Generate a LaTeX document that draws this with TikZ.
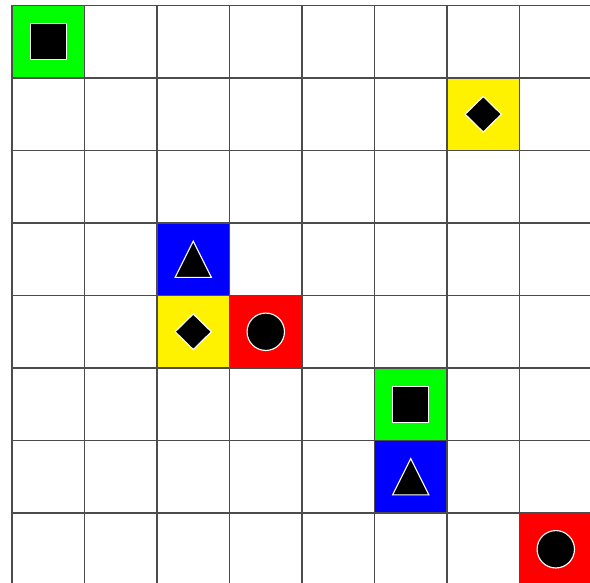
\documentclass[tikz,border=0pt]{standalone}
\begin{document}
\begin{tikzpicture}[x=1cm,y=-1cm,
  gridline/.style={draw=black!70,line width=0.6pt},
  shapemark/.style={fill=black,draw=white,line width=0.45pt},
  sqmark/.pic={\path[shapemark] (-0.25,-0.25) rectangle (0.25,0.25);},
  trimark/.pic={\path[shapemark] (-0.25,0.25) -- (0,-0.25) -- (0.25,0.25) -- cycle;},
  diamark/.pic={\path[shapemark] (-0.25,0) -- (0,-0.245) -- (0.25,0) -- (0,0.245) -- cycle;},
  circmark/.pic={\path[shapemark] (0,0) circle (0.258);}
]
\useasboundingbox (-0.1655,-0.0759) rectangle (7.972,7.952);
\clip (-0.1655,-0.0759) rectangle (7.972,7.952);
\fill[white] (-0.1655,-0.0759) rectangle (7.972,7.952);
% coloured cells
\fill[green] (0,0) rectangle (1,1);
\fill[yellow] (6,1) rectangle (7,2);
\fill[blue] (2,3) rectangle (3,4);
\fill[yellow] (2,4) rectangle (3,5);
\fill[red] (3,4) rectangle (4,5);
\fill[green] (5,5) rectangle (6,6);
\fill[blue] (5,6) rectangle (6,7);
\fill[red] (7,7) rectangle (8,8);
% grid
\foreach \i in {0,...,8} {
  \draw[gridline] (\i,0) -- (\i,8.2);
  \draw[gridline] (0,\i) -- (8.2,\i);
}
% marks
\pic at (0.5,0.5) {sqmark};
\pic at (6.5,1.5) {diamark};
\pic at (2.5,3.5) {trimark};
\pic at (2.5,4.5) {diamark};
\pic at (3.5,4.5) {circmark};
\pic at (5.5,5.5) {sqmark};
\pic at (5.5,6.5) {trimark};
\pic at (7.5,7.5) {circmark};
\end{tikzpicture}
\end{document}
